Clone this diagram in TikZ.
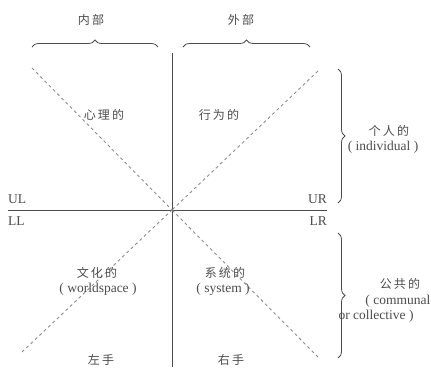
\documentclass[tikz,border=0pt]{standalone}
\usepackage{fontspec}
\setmainfont{Liberation Serif}
\newfontfamily\cjk{Noto Sans CJK SC}[LetterSpace=18]
\usetikzlibrary{decorations.pathreplacing}
\definecolor{ink}{RGB}{75,75,75}
\definecolor{dash}{RGB}{140,140,140}
\tikzset{
  axis/.style={draw=ink, line width=0.9pt},
  diag/.style={draw=dash, line width=0.9pt, dash pattern=on 3pt off 3pt},
  brc/.style={draw=ink, line width=0.8pt, decorate, decoration={brace, amplitude=7pt}},
  cn/.style={text=ink, font=\cjk\fontsize{12}{14}\selectfont, inner sep=0pt},
  lt/.style={text=ink, font=\fontsize{13.5}{15}\selectfont, inner sep=0pt, align=center},
}
\begin{document}
\begin{tikzpicture}[x=1pt,y=-1pt]
\useasboundingbox (0,0) rectangle (431,367);
% axes
\coordinate (c) at (172,210);
\coordinate (vt) at (172,53);
\coordinate (vb) at (172,367);
\coordinate (hl) at (8,210);
\coordinate (hr) at (327,210);
\draw[axis] (vt) -- (vb);
\draw[axis] (hl) -- (hr);
% diagonals
\coordinate (dul) at (32,68);
\coordinate (dur) at (318,71);
\coordinate (dll) at (22,352);
\coordinate (dlr) at (318,357);
\draw[diag] (dul) -- (c);
\draw[diag] (dur) -- (c);
\draw[diag] (dll) -- (c);
\draw[diag] (dlr) -- (c);
% top braces
\coordinate (b1a) at (32,47);
\coordinate (b1b) at (158,47);
\coordinate (b2a) at (183,47);
\coordinate (b2b) at (310,47);
\draw[brc] (b1a) -- (b1b);
\draw[brc] (b2a) -- (b2b);
% right braces
\coordinate (r1a) at (338,69);
\coordinate (r1b) at (338,203);
\coordinate (r2a) at (338,233);
\coordinate (r2b) at (338,358);
\draw[brc] (r1a) -- (r1b);
\draw[brc] (r2a) -- (r2b);
% labels
\node[cn] (nb) at (91,20) {内部};
\node[cn] (wb) at (241,20) {外部};
\node[cn] (xl) at (104,115) {心理的};
\node[cn] (xw) at (219,115) {行为的};
\node[cn] (wh) at (97,273) {文化的};
\node[lt] (ws) at (98,289) {( worldspace )};
\node[cn] (xt) at (225,273) {系统的};
\node[lt] (sy) at (223,289) {( system )};
\node[cn] (zs) at (101,360) {左手};
\node[cn] (ys) at (231,360) {右手};
\node[cn] (gr) at (389,131) {个人的};
\node[lt] (ind) at (383,147) {( individual )};
\node[cn] (gg) at (400,284) {公共的};
\node[lt, anchor=east] (com) at (430.5,301) {( communal};
\node[lt] (col) at (376,316) {or collective )};
\node[lt, anchor=west] (ul) at (8,199) {UL};
\node[lt, anchor=east] (ur) at (327,199) {UR};
\node[lt, anchor=west] (ll) at (8,221) {LL};
\node[lt, anchor=east] (lr) at (327,221) {LR};
\end{tikzpicture}
\end{document}
